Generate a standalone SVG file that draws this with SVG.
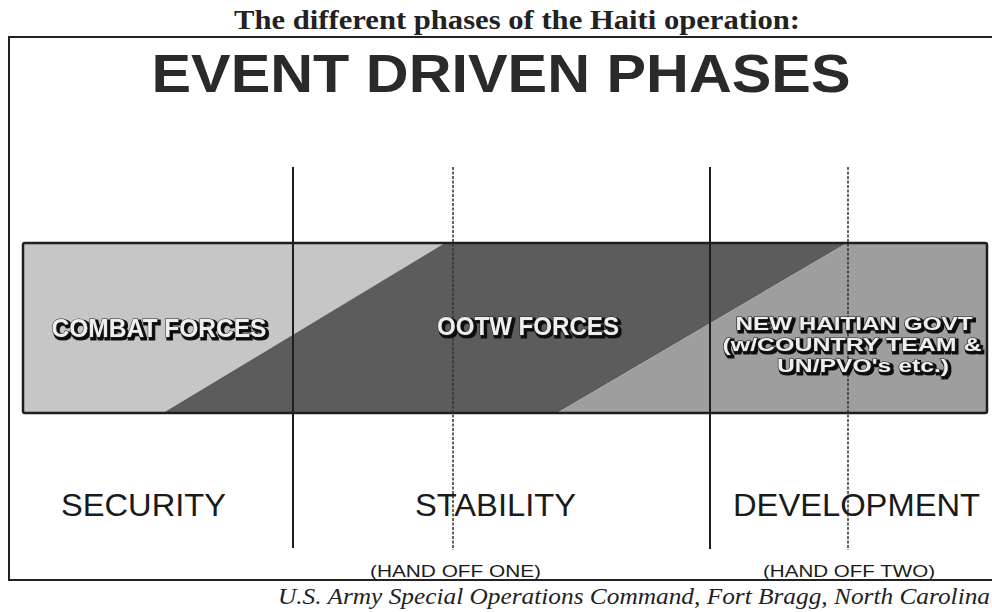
<svg xmlns="http://www.w3.org/2000/svg" width="992" height="612" viewBox="0 0 992 612">
  <defs>
    <!-- raised-letter look for the labels inside the bar -->
    <filter id="raised" x="-5%" y="-30%" width="115%" height="170%">
      <feMorphology in="SourceAlpha" operator="dilate" radius="1" result="thick"/>
      <feOffset in="thick" dx="2" dy="2" result="off"/>
      <feFlood flood-color="#111111"/>
      <feComposite in2="off" operator="in" result="shadow"/>
      <feMerge>
        <feMergeNode in="shadow"/>
        <feMergeNode in="SourceGraphic"/>
      </feMerge>
    </filter>
  </defs>
  <style>
    .title { font-family: "Liberation Serif", "Times New Roman", serif; font-weight: bold; font-size: 27px; fill: #222; }
    .head { font-family: "Liberation Sans", Arial, sans-serif; font-weight: bold; font-size: 54px; fill: #2a2a2a; }
    .phase { font-family: "Liberation Sans", Arial, sans-serif; font-size: 32px; fill: #1a1a1a; }
    .hand { font-family: "Liberation Sans", Arial, sans-serif; font-size: 17px; fill: #1a1a1a; }
    .credit { font-family: "Liberation Serif", "Times New Roman", serif; font-style: italic; font-size: 24px; fill: #222; }
    .emb { font-family: "Liberation Sans", Arial, sans-serif; font-weight: bold; font-size: 25px;
           fill: #eeeeee; stroke: #222; stroke-width: 1; paint-order: stroke; filter: url(#raised); }
    .emb-sm { font-size: 18px; }
    .rule { stroke: #222; stroke-width: 2; fill: none; }
    .solid { stroke: #1e1e1e; stroke-width: 2; }
    .dashed { stroke: #333; stroke-width: 1.5; stroke-dasharray: 3 1.5; }
  </style>

  <rect width="992" height="612" fill="#ffffff"/>

  <!-- caption above the frame -->
  <text class="title" x="517" y="29" text-anchor="middle" textLength="566" lengthAdjust="spacingAndGlyphs">The different phases of the Haiti operation:</text>

  <!-- frame -->
  <path class="rule" d="M8 37 H992 M9 37 V580 M8 580 H992"/>

  <text class="head" x="501" y="92" text-anchor="middle" textLength="699" lengthAdjust="spacingAndGlyphs">EVENT DRIVEN PHASES</text>

  <!-- phase bar -->
  <g id="phase-bar">
    <polygon id="combat-region" points="23,243 445,243 163,413 23,413" fill="#c6c6c6"/>
    <polygon id="ootw-region" points="445,243 847,243 557,413 163,413" fill="#5c5c5c"/>
    <polygon id="govt-region" points="847,243 987,243 987,413 557,413" fill="#9e9e9e"/>
    <rect x="23" y="243" width="964" height="170" rx="2" fill="none" stroke="#1e1e1e" stroke-width="2.5"/>
  </g>

  <!-- phase boundaries and hand-off markers -->
  <g id="connectors">
    <line class="solid" x1="293" y1="167" x2="293" y2="548"/>
    <line class="dashed" x1="453" y1="167" x2="453" y2="550"/>
    <line class="solid" x1="710" y1="167" x2="710" y2="549"/>
    <line class="dashed" x1="848" y1="167" x2="848" y2="550"/>
  </g>

  <g id="combat-forces">
    <text class="emb" x="159" y="337" text-anchor="middle" textLength="215" lengthAdjust="spacingAndGlyphs">COMBAT FORCES</text>
  </g>

  <g id="ootw-forces">
    <text class="emb" x="528" y="335" text-anchor="middle" textLength="182" lengthAdjust="spacingAndGlyphs">OOTW FORCES</text>
  </g>

  <g id="new-haitian-govt">
    <text class="emb emb-sm" x="854" y="330" text-anchor="middle" textLength="237" lengthAdjust="spacingAndGlyphs">NEW HAITIAN GOVT</text>
    <text class="emb emb-sm" x="852" y="351" text-anchor="middle" textLength="259" lengthAdjust="spacingAndGlyphs">(w/COUNTRY TEAM &amp;</text>
    <text class="emb emb-sm" x="863" y="372" text-anchor="middle" textLength="172" lengthAdjust="spacingAndGlyphs">UN/PVO's etc.)</text>
  </g>

  <!-- phase names -->
  <text id="security" class="phase" x="61" y="516" textLength="165" lengthAdjust="spacingAndGlyphs">SECURITY</text>
  <text id="stability" class="phase" x="415" y="516" textLength="161" lengthAdjust="spacingAndGlyphs">STABILITY</text>
  <text id="development" class="phase" x="733" y="516" textLength="247" lengthAdjust="spacingAndGlyphs">DEVELOPMENT</text>

  <text id="hand-off-one" class="hand" x="370" y="577" textLength="171" lengthAdjust="spacingAndGlyphs">(HAND OFF ONE)</text>
  <text id="hand-off-two" class="hand" x="763" y="577" textLength="172" lengthAdjust="spacingAndGlyphs">(HAND OFF TWO)</text>

  <text class="credit" x="278" y="604" textLength="712" lengthAdjust="spacingAndGlyphs">U.S. Army Special Operations Command, Fort Bragg, North Carolina</text>
</svg>
